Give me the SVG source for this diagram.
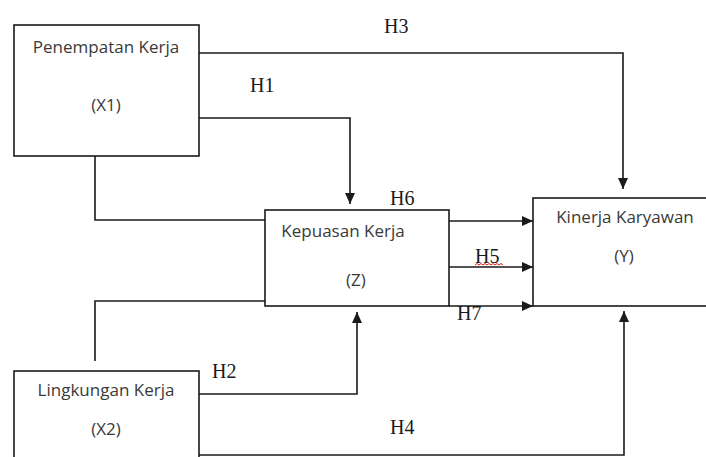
<svg xmlns="http://www.w3.org/2000/svg" width="706" height="457" viewBox="0 0 706 457">
<style>
.box{fill:#fff;stroke:#1a1a1a;stroke-width:1.6}
.lbl{font-family:"Open Sans","Noto Sans",sans-serif;font-size:17px;fill:#3a3a3a;text-anchor:middle}
.h{font-family:"Liberation Serif","Times New Roman",serif;font-size:20px;fill:#1a1a1a}
.c{fill:none;stroke:#1a1a1a;stroke-width:1.6}
.a{marker-end:url(#arr)}
</style>
<defs>
<marker id="arr" markerUnits="userSpaceOnUse" markerWidth="11" markerHeight="10" refX="11" refY="5" orient="auto">
<path d="M0,0 L11,5 L0,10 z" fill="#1a1a1a"/>
</marker>
</defs>
<rect width="706" height="457" fill="#fff"/>
<g id="connectors">
<polyline class="c a" points="199,53 623,53 623,189"/>
<polyline class="c a" points="199,118 350,118 350,204"/>
<polyline class="c" points="95,156 95,220 265,220"/>
<polyline class="c" points="95,361 95,301 265,301"/>
<polyline class="c a" points="199,394 357,394 357,312"/>
<polyline class="c a" points="199,455 624,455 624,311"/>
<line class="c a" x1="449" y1="221" x2="533" y2="221"/>
<line class="c a" x1="449" y1="267" x2="533" y2="267"/>
<line class="c a" x1="449" y1="306" x2="533" y2="306"/>
<text class="h" x="384" y="33">H3</text>
<text class="h" x="250" y="92">H1</text>
<text class="h" x="390" y="205">H6</text>
<text class="h" x="475" y="263">H5</text>
<path d="M475,265 l2,-1.5 l2,1.5 l2,-1.5 l2,1.5 l2,-1.5 l2,1.5 l2,-1.5 l2,1.5 l2,-1.5 l2,1.5 l2,-1.5 l2,1.5 l2,-1.5 l2,1.5" fill="none" stroke="#e0201a" stroke-width="1"/>
<text class="h" x="457" y="320">H7</text>
<text class="h" x="212" y="378">H2</text>
<text class="h" x="390" y="434">H4</text>
</g>
<g id="x1">
<rect class="box" x="14" y="25" width="185" height="131"/>
<text class="lbl" x="106" y="53">Penempatan Kerja</text>
<text class="lbl" x="106" y="111">(X1)</text>
</g>
<g id="z">
<rect class="box" x="265" y="210" width="184" height="96"/>
<text class="lbl" x="343" y="237">Kepuasan Kerja</text>
<text class="lbl" x="356" y="286">(Z)</text>
</g>
<g id="y">
<rect class="box" x="533" y="198" width="180" height="108"/>
<text class="lbl" x="625" y="223">Kinerja Karyawan</text>
<text class="lbl" x="624" y="262">(Y)</text>
</g>
<g id="x2">
<rect class="box" x="14" y="371" width="185" height="95"/>
<text class="lbl" x="106" y="396">Lingkungan Kerja</text>
<text class="lbl" x="106" y="435">(X2)</text>
</g>
</svg>
